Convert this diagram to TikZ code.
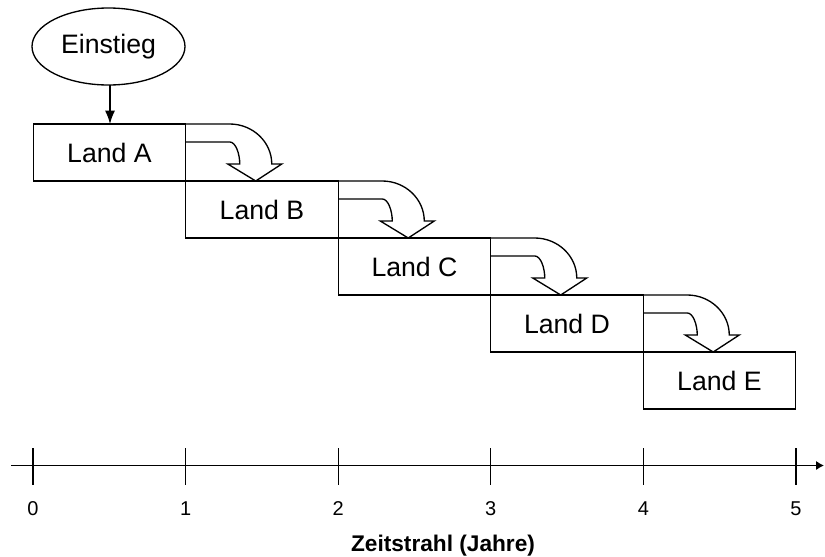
\documentclass[tikz,border=0pt]{standalone}
\usepackage{fontspec}
\setmainfont{Liberation Sans}
\usetikzlibrary{shapes.geometric,arrows.meta,calc}

\tikzset{
  land/.style={draw, line width=1pt, minimum width=114.4pt, minimum height=42.75pt,
    inner sep=0pt, outer sep=0pt, font=\fontsize{20}{24}\selectfont},
  start/.style={draw, ellipse, line width=1pt, minimum width=114.75pt, minimum height=57.75pt,
    inner sep=0pt, outer sep=0pt, font=\fontsize{20}{24}\selectfont},
  hollow/.style={line width=1pt, line join=miter},
  axis/.style={line width=1pt},
  tick/.style={line width=1pt},
  year/.style={font=\fontsize{15}{18}\selectfont},
}

\begin{document}
\begin{tikzpicture}[x=0.75pt,y=0.75pt,yscale=-1,xscale=1]
    \useasboundingbox (0,0) rectangle (825,557);

    % Start Node
    \node[start] (einstieg) at (108.5,46.5) {Einstieg};

    % Country Nodes
    \node[land] (A) at (109.5,152.5) {Land A};
    \node[land] (B) at (262,209.5) {Land B};
    \node[land] (C) at (414.5,266.5) {Land C};
    \node[land] (D) at (567,323.5) {Land D};
    \node[land] (E) at (719.5,380.5) {Land E};

    % Connection
    \draw[line width=1pt, -{Latex[length=10pt,width=7.5pt]}] (einstieg.south -| 110,0) -- (A.north -| 110,0);

    % Hollow Arrows
    \foreach \from/\to in {A/B, B/C, C/D, D/E}{
      \draw[hollow] (\from.north east)
        -- ($(\from.north east)+(44,0)$)
        .. controls ($(\from.north east)+(67,0)$) and ($(\from.north east)+(86,18)$) .. ($(\from.north east)+(86,40)$)
        -- ($(\from.north east)+(96,40)$)
        -- ($(\to.north west)+(70,0)$)
        -- ($(\from.north east)+(42,40)$)
        -- ($(\from.north east)+(54,40)$)
        .. controls ($(\from.north east)+(54,30)$) and ($(\from.north east)+(50,18)$) .. ($(\from.north east)+(44,18)$)
        -- ($(\from.north east)+(0,18)$);
    }

    % Time Line
    \coordinate (tstart) at (11,465.5);
    \coordinate (tend) at (824,465.5);
    \draw[axis, -{Latex[length=6pt,width=7pt]}] (tstart) -- (tend);
    \foreach \i in {0,...,5}{
      \draw[tick] ({33+152.6*\i},448) -- ({33+152.6*\i},485);
      \node[year] (y\i) at ({33+152.6*\i},509) {\i};
    }
    \node[font=\fontsize{17}{20}\selectfont\bfseries] (zeit) at (443,546) {Zeitstrahl (Jahre)};

\end{tikzpicture}
\end{document}
